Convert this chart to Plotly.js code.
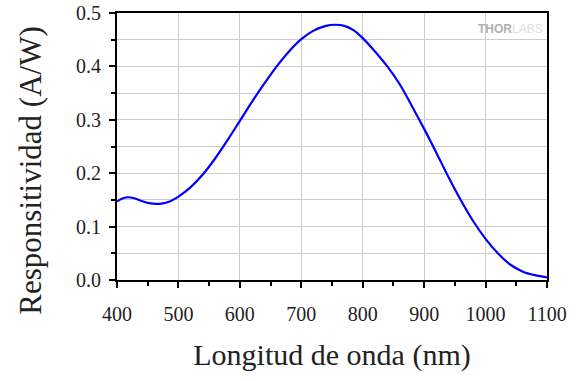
<!DOCTYPE html>
<html>
<head>
<meta charset="utf-8">
<script src="https://cdn.plot.ly/plotly-3.0.1.min.js"></script>
<style>
  html, body { margin: 0; padding: 0; background: #fff; }
  #chart { width: 577px; height: 381px; }
</style>
</head>
<body>
<div id="chart"></div>
<script>
// Wavelength (nm)
const wavelength = [400, 410, 418, 428, 440, 452, 464, 475, 486, 500, 520, 540, 560, 580, 600, 620, 640, 660, 680, 700, 720, 740, 755, 770, 785, 800, 820, 840, 860, 880, 900, 920, 940, 960, 980, 1000, 1020, 1040, 1060, 1080, 1100];
// Responsivity (A/W)
const responsivity = [0.147, 0.153, 0.155, 0.153, 0.148, 0.144, 0.1425, 0.1435, 0.147, 0.156, 0.174, 0.198, 0.228, 0.262, 0.298, 0.334, 0.368, 0.400, 0.428, 0.451, 0.467, 0.476, 0.478, 0.476, 0.468, 0.453, 0.428, 0.400, 0.367, 0.326, 0.283, 0.238, 0.192, 0.149, 0.110, 0.077, 0.050, 0.029, 0.016, 0.009, 0.005];

const xTickVals = [400, 500, 600, 700, 800, 900, 1000, 1100];
const yTickVals = [0.0, 0.1, 0.2, 0.3, 0.4, 0.5];
const xTitle = 'Longitud de onda (nm)';
const yTitle = 'Responsitividad (A/W)';

const serif = '"Liberation Serif", "Times New Roman", serif';

const trace = {
  x: wavelength,
  y: responsivity,
  type: 'scatter',
  mode: 'lines',
  line: { color: '#0000ff', width: 2.2, shape: 'spline', smoothing: 1 },
  hoverinfo: 'x+y'
};

const layout = {
  width: 577,
  height: 381,
  margin: { l: 117, r: 30, t: 13, b: 101 },
  paper_bgcolor: '#ffffff',
  plot_bgcolor: '#ffffff',
  showlegend: false,
  font: { family: serif, color: '#222222' },
  xaxis: {
    range: [400, 1100],
    tickvals: xTickVals,
    ticktext: xTickVals.map(String),
    ticks: 'outside',
    ticklen: 6,
    tickwidth: 2,
    tickcolor: '#000',
    ticklabelstandoff: 9,
    showline: true,
    linewidth: 2,
    linecolor: '#000',
    mirror: true,
    showgrid: true,
    gridcolor: '#cccccc',
    gridwidth: 1,
    zeroline: false,
    minor: { dtick: 50, ticks: 'outside', ticklen: 4, tickwidth: 2, tickcolor: '#000', showgrid: false },
    tickfont: { family: serif, size: 20, color: '#222' },
    title: { text: xTitle, font: { family: serif, size: 30, color: '#222' }, standoff: 20 }
  },
  yaxis: {
    range: [0, 0.5],
    tickvals: yTickVals,
    tickformat: '.1f',
    ticks: 'outside',
    ticklen: 6,
    tickwidth: 2,
    tickcolor: '#000',
    ticklabelstandoff: 4,
    showline: true,
    linewidth: 2,
    linecolor: '#000',
    mirror: true,
    showgrid: true,
    gridcolor: '#cccccc',
    gridwidth: 1,
    zeroline: false,
    minor: { dtick: 0.05, ticks: 'outside', ticklen: 4, tickwidth: 2, tickcolor: '#000', showgrid: true, gridcolor: '#cccccc', gridwidth: 1 },
    tickfont: { family: serif, size: 20, color: '#222' }
  },
  annotations: [
    {
      xref: 'paper', yref: 'paper',
      x: -0.202, y: 0.41,
      xanchor: 'center', yanchor: 'middle',
      textangle: -90,
      showarrow: false,
      text: yTitle,
      font: { family: serif, size: 31, color: '#222' }
    },
    {
      xref: 'paper', yref: 'paper',
      x: 0.995, y: 0.975,
      xanchor: 'right', yanchor: 'top',
      showarrow: false,
      text: '<b>THOR</b><span style="color:#e0e0e0">LABS</span>',
      font: { family: 'Liberation Sans, Arial, sans-serif', size: 12, color: '#b0b0b0' }
    }
  ]
};

Plotly.newPlot('chart', [trace], layout, { displayModeBar: false, staticPlot: true });
</script>
</body>
</html>
